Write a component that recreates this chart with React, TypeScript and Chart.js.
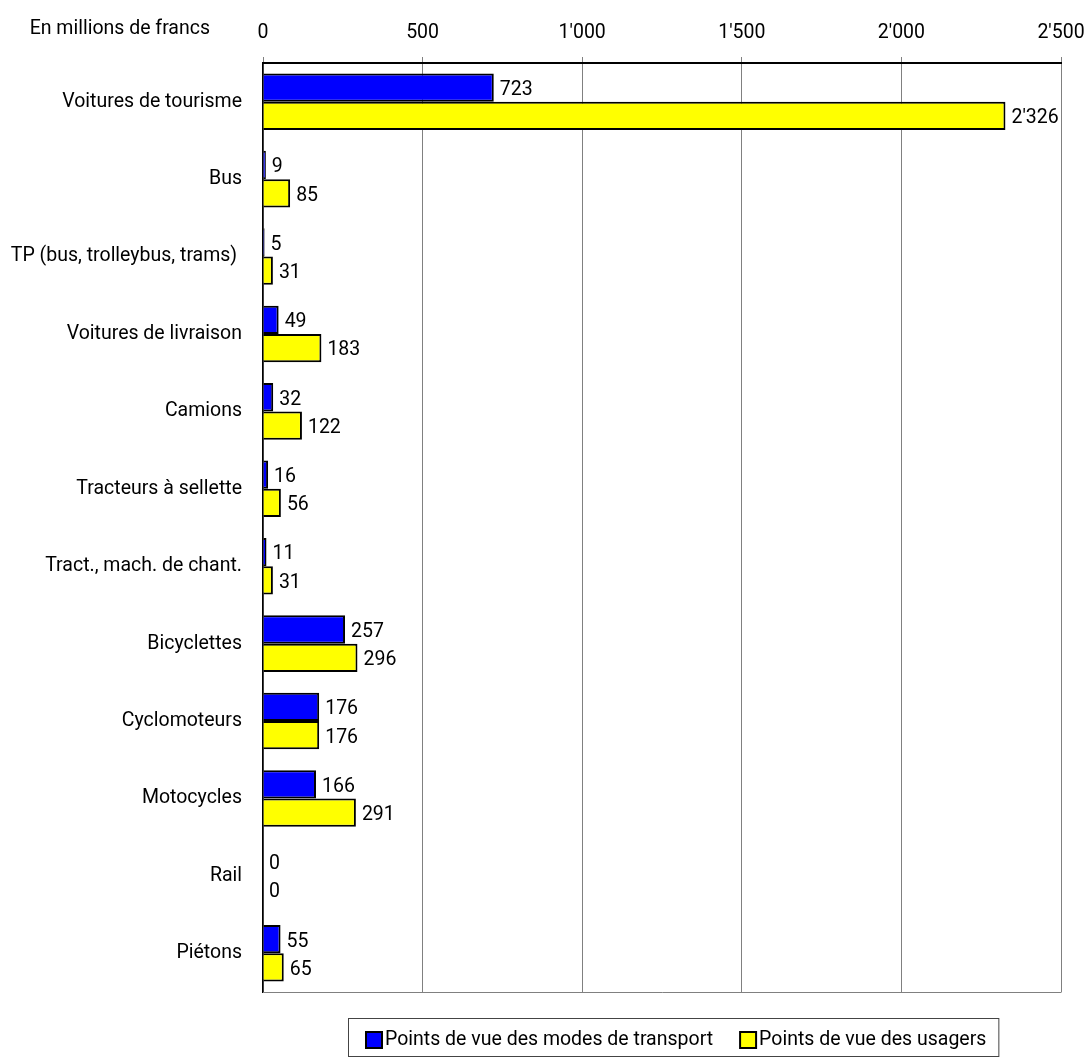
import React, { useEffect, useRef } from "react";
import { Chart, registerables } from "chart.js";

Chart.register(...registerables);

const categories = [
  "Voitures de tourisme",
  "Bus",
  "TP (bus, trolleybus, trams) ",
  "Voitures de livraison",
  "Camions",
  "Tracteurs à sellette",
  "Tract., mach. de chant.",
  "Bicyclettes",
  "Cyclomoteurs",
  "Motocycles",
  "Rail",
  "Piétons",
];

const modesTransport = [723, 9, 5, 49, 32, 16, 11, 257, 176, 166, 0, 55];
const usagers = [2326, 85, 31, 183, 122, 56, 31, 296, 176, 291, 0, 65];

const seriesLabels = [
  "Points de vue des modes de transport",
  "Points de vue des usagers",
];
const seriesColors = ["#0000FF", "#FFFF00"];

const xTicks = [0, 500, 1000, 1500, 2000, 2500];
const unitLabel = "En millions de francs";

const FONT_FAMILY = "Roboto, 'Liberation Sans', sans-serif";
const FONT_SIZE = 19.5;
const fontStr = `${FONT_SIZE}px ${FONT_FAMILY}`;

// Swiss-style thousands separator: 2'326
const fmt = (v: number) =>
  String(Math.round(v)).replace(/\B(?=(\d{3})+(?!\d))/g, "'");

const valueLabels = {
  id: "valueLabels",
  afterDatasetsDraw(chart: any) {
    const ctx = chart.ctx;
    ctx.save();
    ctx.font = fontStr;
    ctx.fillStyle = "#000";
    ctx.textAlign = "left";
    ctx.textBaseline = "middle";
    chart.data.datasets.forEach((ds: any, di: number) => {
      const meta = chart.getDatasetMeta(di);
      meta.data.forEach((el: any, i: number) => {
        ctx.fillText(fmt(ds.data[i]), el.x + 6, el.y + 2.5);
      });
    });
    ctx.restore();
  },
};

const frame = {
  id: "frame",
  afterDraw(chart: any) {
    const { ctx, chartArea } = chart;
    ctx.save();
    // bottom edge of the plot
    ctx.strokeStyle = "#808080";
    ctx.lineWidth = 1;
    ctx.beginPath();
    ctx.moveTo(chartArea.left, chartArea.bottom + 0.5);
    ctx.lineTo(chartArea.right + 0.5, chartArea.bottom + 0.5);
    ctx.stroke();

    // unit caption, on the same line as the top tick labels
    ctx.font = fontStr;
    ctx.fillStyle = "#000";
    ctx.textAlign = "right";
    ctx.textBaseline = "middle";
    ctx.fillText(unitLabel, 210, 29.5);

    // boxed legend below the plot
    const boxL = 348;
    const boxT = 1018;
    const boxH = 38;
    const sq = 16;
    const cy = 1040;
    let x = boxL + 18;
    chart.data.datasets.forEach((ds: any, i: number) => {
      ctx.fillStyle = ds.backgroundColor;
      ctx.fillRect(x, cy - sq / 2, sq, sq);
      ctx.strokeStyle = "#000";
      ctx.lineWidth = 2;
      ctx.strokeRect(x, cy - sq / 2, sq, sq);
      x += sq + 3;
      ctx.fillStyle = "#000";
      ctx.textAlign = "left";
      ctx.fillText(ds.label, x, cy);
      x += ctx.measureText(ds.label).width;
      if (i < chart.data.datasets.length - 1) x += 27;
    });
    const boxR = x + 12;
    ctx.strokeStyle = "#444";
    ctx.lineWidth = 1;
    ctx.strokeRect(boxL + 0.5, boxT + 0.5, boxR - boxL, boxH);
    ctx.restore();
  },
};

export default function App() {
  const ref = useRef<HTMLCanvasElement | null>(null);

  useEffect(() => {
    if (!ref.current) return;
    const chart = new Chart(ref.current, {
      type: "bar",
      data: {
        labels: categories,
        datasets: [
          {
            label: seriesLabels[0],
            data: modesTransport,
            backgroundColor: seriesColors[0],
            borderColor: "#000",
            borderWidth: 2,
            categoryPercentage: 0.73,
            barPercentage: 1,
          },
          {
            label: seriesLabels[1],
            data: usagers,
            backgroundColor: seriesColors[1],
            borderColor: "#000",
            borderWidth: 2,
            categoryPercentage: 0.73,
            barPercentage: 1,
          },
        ],
      },
      options: {
        indexAxis: "y",
        animation: false,
        responsive: false,
        layout: { padding: { left: 0, right: 24, top: 0, bottom: 69 } },
        plugins: {
          legend: { display: false },
          tooltip: { enabled: false },
        },
        scales: {
          x: {
            position: "top",
            min: 0,
            max: 2500,
            afterFit: (s: any) => {
              s.height = 63;
              s.paddingLeft = 0;
              s.paddingRight = 0;
            },
            afterBuildTicks: (s: any) => {
              s.ticks = xTicks.map((v) => ({ value: v }));
            },
            ticks: {
              font: { family: FONT_FAMILY, size: FONT_SIZE },
              color: "#000",
              padding: 12,
              maxRotation: 0,
              callback: (v: any) => fmt(Number(v)),
            },
            grid: {
              color: "#808080",
              lineWidth: 1,
              drawTicks: true,
              tickLength: 6,
            },
            border: { display: true, color: "#000", width: 2 },
          },
          y: {
            afterFit: (s: any) => {
              s.width = 263;
            },
            ticks: {
              font: { family: FONT_FAMILY, size: FONT_SIZE },
              color: "#000",
              padding: 21,
            },
            grid: { display: false, drawTicks: false },
            border: { display: true, color: "#000", width: 1.5 },
          },
        },
      },
      plugins: [valueLabels, frame],
    } as any);
    return () => chart.destroy();
  }, []);

  return (
    <div style={{ position: "absolute", left: 0, top: 0, width: 1085, height: 1061, background: "#fff" }}>
      <canvas ref={ref} width={1085} height={1061} style={{ display: "block" }} />
    </div>
  );
}
